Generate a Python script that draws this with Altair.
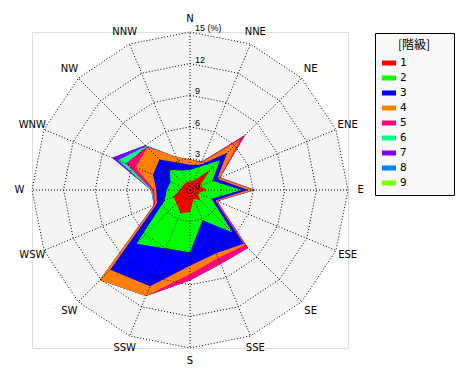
import altair as alt
import pandas as pd
import numpy as np

directions = ["N", "NNE", "NE", "ENE", "E", "ESE", "SE", "SSE",
              "S", "SSW", "SW", "WSW", "W", "WNW", "NW", "NNW"]
classes = ["1", "2", "3", "4", "5", "6", "7", "8", "9"]
colors = ["#ff0000", "#00ff00", "#0000ff", "#ff8000", "#ff0080",
          "#00ff80", "#8000ff", "#0080ff", "#80ff00"]

# frequency (%) of each class per direction (N, NNE, ... NNW)
c1 = [0.8, 1.0, 2.7, 1.0, 1.6, 0.8, 1.4, 0.9, 2.1, 2.4, 1.8, 1.7, 1.0, 0.8, 0.8, 0.8]
c2 = [1.1, 1.4, 1.3, 1.3, 3.3, 1.4, 4.3, 2.2, 3.8, 3.6, 5.4, 0.9, 1.2, 1.2, 1.9, 1.2]
c3 = [0.5, 0.2, 1.0, 0.5, 0.6, 0.4, 1.5, 3.4, 1.3, 3.9, 3.5, 0.8, 1.0, 1.8, 1.4, 0.8]
c4 = [0.5, 0.2, 1.8, 0.2, 0.5, 0.1, 0.2, 0.5, 0.8, 1.0, 1.4, 0.2, 0.2, 1.8, 1.6, 0.6]
c5 = [0.0, 0.1, 0.6, 0.1, 0.1, 0.1, 0.4, 0.6, 0.6, 0.0, 0.0, 0.1, 0.2, 1.0, 0.1, 0.0]
c6 = [0.0, 0.0, 0.0, 0.0, 0.1, 0.0, 0.0, 0.0, 0.0, 0.0, 0.0, 0.0, 0.1, 0.8, 0.1, 0.0]
c7 = [0.0, 0.0, 0.0, 0.0, 0.0, 0.0, 0.0, 0.0, 0.0, 0.0, 0.0, 0.0, 0.0, 0.6, 0.1, 0.0]
c8 = [0.0] * 16
c9 = [0.0] * 16
series = [c1, c2, c3, c4, c5, c6, c7, c8, c9]

rings = [3, 6, 9, 12, 15]
tick_labels = ["0", "3", "6", "9", "12", "15 (%)"]
tick_values = [0, 3, 6, 9, 12, 15]
label_radius = 16.2

# stacked (cumulative) polygons
cum = np.cumsum(np.array(series), axis=0)
rows = []
for k, cls in enumerate(classes):
    for i in range(17):
        rows.append({"cls": cls, "k": k, "i": i, "r": float(cum[k][i % 16])})
poly_df = pd.DataFrame(rows)

ring_df = pd.DataFrame([{"ring": rv, "i": i, "r": rv} for rv in rings for i in range(17)])
# upper half vertices (W .. N .. E) of the outer ring, mirrored below by the area
bg_df = pd.DataFrame([{"i": i, "r": 15.0} for i in [12, 13, 14, 15, 16, 17, 18, 19, 20]])
spoke_df = pd.DataFrame([{"i": i, "r": 15.0} for i in range(16)])
dir_df = pd.DataFrame([{"i": i, "r": label_radius, "lab": d} for i, d in enumerate(directions)])
tick_df = pd.DataFrame({"r": tick_values, "lab": tick_labels})

xs = alt.Scale(domain=[-15, 15], nice=False, zero=False)
ys = alt.Scale(domain=[-15, 15], nice=False, zero=False)
X = lambda f: alt.X(f, type="quantitative", scale=xs, axis=None)
Y = lambda f: alt.Y(f, type="quantitative", scale=ys, axis=None)

calc = dict(x="datum.r * sin(datum.i * PI / 8)", y="datum.r * cos(datum.i * PI / 8)")

bg = alt.Chart(bg_df).transform_calculate(**calc).transform_calculate(
    y2="-datum.y"
).mark_area(color="#f4f4f4", opacity=1, strokeWidth=0).encode(
    x=X("x"), y=Y("y"), y2="y2:Q"
)

blank = "\u2800" * 5
legend = alt.Legend(
    title="[階級]", orient="none", legendX=343, legendY=1,
    titleFont="Noto Sans CJK JP", titleFontSize=12, titleFontWeight="normal",
    titleColor="#000000", titleAnchor="middle", titleAlign="center", titlePadding=4,
    labelFont="DejaVu Sans Mono", labelFontSize=11, labelColor="#000000",
    labelExpr=f"datum.label + '{blank}'",
    symbolType="M-1,-0.357H1V0.357H-1Z", symbolSize=196, symbolStrokeWidth=0,
    symbolOpacity=1, rowPadding=3, padding=7, labelOffset=4,
    fillColor="#f8f8f8", strokeColor="#000000",
)
color = alt.Color("cls:N", scale=alt.Scale(domain=classes, range=colors), legend=legend)

layers = [bg]
for k in reversed(range(len(classes))):
    layers.append(
        alt.Chart(poly_df).transform_filter(f"datum.k == {k}").transform_calculate(**calc)
        .mark_line(filled=True, strokeWidth=0, opacity=1)
        .encode(x=X("x"), y=Y("y"), order="i:Q", color=color)
    )

ring_layer = alt.Chart(ring_df).transform_calculate(**calc).mark_line(
    color="#000000", strokeWidth=1, strokeDash=[1, 2]
).encode(x=X("x"), y=Y("y"), order="i:Q", detail="ring:N")

spoke_layer = alt.Chart(spoke_df).transform_calculate(x0="0", y0="0", **calc).mark_rule(
    color="#000000", strokeWidth=1, strokeDash=[1, 2]
).encode(x=X("x0"), y=Y("y0"), x2="x:Q", y2="y:Q")

dir_layer = alt.Chart(dir_df).transform_calculate(**calc).mark_text(
    font="DejaVu Sans", fontSize=10, color="#000000", align="center", baseline="middle"
).encode(x=X("x"), y=Y("y"), text="lab:N")

tick_layer = alt.Chart(tick_df).transform_calculate(x="0", y="datum.r").mark_text(
    font="Liberation Sans", fontSize=9, color="#000000", align="left",
    baseline="bottom", dx=5, dy=1
).encode(x=X("x"), y=Y("y"), text="lab:N")

layers += [ring_layer, spoke_layer, dir_layer, tick_layer]

chart = alt.layer(*layers).properties(
    width=316, height=316,
    autosize=alt.AutoSizeParams(type="none"),
    padding={"left": 24, "top": 24, "right": 114, "bottom": 26},
).configure_view(strokeWidth=0, strokeOpacity=0, fill="#ffffff").configure_legend(
    strokeDash=[1, 2]
).configure(background="#ffffff")

chart.save("out.html", embed_options={"renderer": "svg", "actions": False})
